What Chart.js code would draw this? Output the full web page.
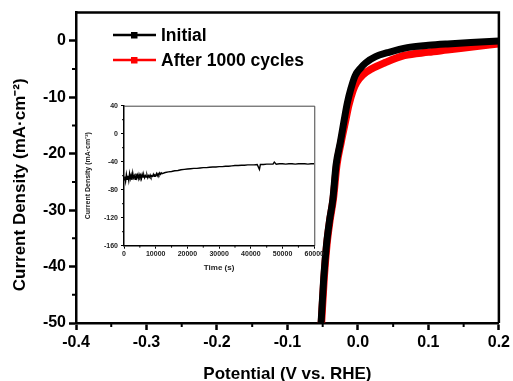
<!DOCTYPE html>
<html><head><meta charset="utf-8">
<script src="https://cdn.jsdelivr.net/npm/chart.js@4.4.0/dist/chart.umd.min.js"></script>
<style>
html,body{margin:0;padding:0;background:#fff;overflow:hidden;width:513px;height:381px;}
#wrap{position:relative;width:513px;height:381px;overflow:hidden;}
#main{position:absolute;left:0;top:0;}
#inset{position:absolute;left:80px;top:92px;}
</style></head><body>
<div id="wrap">
<canvas id="main" width="513" height="388"></canvas>
<canvas id="inset" width="245" height="185"></canvas>
</div>
<script>
// ---- main LSV data ----
const seriesNames = ['Initial', 'After 1000 cycles'];
const potentialInitial = [-0.0525,-0.0485,-0.0445,-0.0405,-0.0355,-0.031,-0.025,-0.020,-0.015,-0.010,-0.004,0.004,0.011,0.025,0.042,0.070,0.100,0.127,0.160,0.200];
const currentInitial   = [-50.5,-42,-36,-32,-28,-22,-18,-14.4,-11,-8.5,-6.2,-4.8,-3.9,-2.8,-2.1,-1.2,-0.8,-0.55,-0.3,-0.05];
const potentialCycled  = [-0.052,-0.048,-0.044,-0.040,-0.035,-0.030,-0.024,-0.018,-0.013,-0.007,-0.002,0.007,0.019,0.038,0.066,0.100,0.127,0.160,0.200];
const currentCycled    = [-50.5,-42,-36,-32,-28,-22,-18,-14.4,-11.4,-8.8,-7.4,-6.0,-5.0,-3.9,-2.6,-2.0,-1.6,-1.1,-0.5];
const xTickValues = [-0.4,-0.3,-0.2,-0.1,0.0,0.1,0.2];
const xMinorTicks = [-0.35,-0.25,-0.15,-0.05,0.05,0.15];
const yTickValues = [-50,-40,-30,-20,-10,0];
const yMinorTicks = [-45,-35,-25,-15,-5];

// ---- inset stability data ----
const insetTime = [0,250,500,750,1000,1250,1500,1750,2000,2250,2500,2750,3000,3250,3500,3750,4000,4250,4500,4750,5000,5250,5500,5750,6000,6250,6500,6750,7000,7250,7500,7750,8000,8250,8500,8750,9000,9250,9500,9750,10000,10250,10500,10750,11000,11250,11500,11750,12000,
 13000,14000,15000,16000,17000,18000,19000,20000,21000,22000,23000,24000,25000,26000,27000,28000,29000,30000,31000,32000,33000,34000,35000,36000,37000,38000,39000,40000,41000,42000,42700,43000,44000,45000,46000,47000,47400,48000,49000,50000,51000,52000,53000,54000,55000,56000,57000,58000,59000,60000];
const insetCurrent = [-66,-61,-68,-58,-65,-60,-67,-57,-64,-59,-66,-56,-63,-60,-65,-57,-63,-59,-64,-58,-62,-59,-64,-58,-62,-59,-63,-60,-62,-59,-63,-60,-62,-59,-62,-60,-61,-58,-61,-59,-60,-57,-60,-57,-59,-56,-58,-56,-57,
 -55.5,-54.5,-54,-53,-52.5,-51.5,-51,-50.5,-50,-49.5,-49.5,-49,-48.5,-48.5,-48,-47.5,-47.5,-47,-47,-46.5,-46.5,-46,-45.5,-45.5,-45,-45,-44.5,-44.5,-44.5,-44,-51,-44,-44,-43.5,-43.5,-43.5,-40.5,-43.5,-43,-43,-43.5,-43,-43,-43.5,-43,-43,-43,-43.5,-43,-43];
const insetXTicks = [0,10000,20000,30000,40000,50000,60000];
const insetXMinor = [5000,15000,25000,35000,45000,55000];
const insetYTicks = [-160,-120,-80,-40,0,40];
const insetYMinor = [-140,-100,-60,-20,20];

const FONT = "'Liberation Sans', Arial, sans-serif";

function pairs(xs, ys){ return xs.map((x,i)=>({x:x, y:ys[i]})); }

const mainDecor = {
  id: 'mainDecor',
  afterDraw(chart){
    const {ctx, chartArea:a, scales:{x, y}} = chart;
    ctx.save();
    ctx.strokeStyle = '#000';
    ctx.lineWidth = 2.5;
    ctx.beginPath();
    ctx.moveTo(a.left, a.top); ctx.lineTo(a.right, a.top); ctx.lineTo(a.right, a.bottom);
    ctx.stroke();
    ctx.lineWidth = 2;
    ctx.beginPath();
    xMinorTicks.forEach(v=>{ const p = x.getPixelForValue(v); ctx.moveTo(p, a.bottom); ctx.lineTo(p, a.bottom+4); });
    yMinorTicks.forEach(v=>{ const p = y.getPixelForValue(v); ctx.moveTo(a.left, p); ctx.lineTo(a.left-4, p); });
    ctx.stroke();
    // legend
    const rows = [35, 60];
    chart.data.datasets.forEach((ds, i)=>{
      const yy = rows[i];
      ctx.strokeStyle = ds.borderColor; ctx.fillStyle = ds.borderColor;
      ctx.lineWidth = 2.5;
      ctx.beginPath(); ctx.moveTo(113, yy); ctx.lineTo(156, yy); ctx.stroke();
      ctx.fillRect(131, yy-3, 6.5, 6.5);
      ctx.fillStyle = '#000';
      ctx.font = 'bold 17.5px ' + FONT;
      ctx.textBaseline = 'middle';
      ctx.fillText(ds.label, 161, yy+1);
    });
    ctx.restore();
  }
};

new Chart(document.getElementById('main'), {
  type: 'scatter',
  data: {
    datasets: [
      { label: seriesNames[0], data: pairs(potentialInitial, currentInitial), showLine: true,
        borderColor: '#000000', backgroundColor: '#000000', borderWidth: 7, pointRadius: 0,
        cubicInterpolationMode: 'monotone' },
      { label: seriesNames[1], data: pairs(potentialCycled, currentCycled), showLine: true,
        borderColor: '#ff0000', backgroundColor: '#ff0000', borderWidth: 7.5, pointRadius: 0,
        cubicInterpolationMode: 'monotone' }
    ]
  },
  options: {
    responsive: false, animation: false, devicePixelRatio: 1,
    layout: { padding: { left: 0, top: 9.5, right: 11, bottom: 0 } },
    plugins: { legend: { display: false }, tooltip: { enabled: false } },
    scales: {
      x: {
        type: 'linear', min: -0.4, max: 0.2,
        afterBuildTicks: s => { s.ticks = xTickValues.map(v=>({value:v})); },
        afterFit: s => { s.height = 65; },
        ticks: { color: '#000', padding: 3, font: { family: FONT, size: 16, weight: 'bold' },
                 callback: v => Number(v).toFixed(1), autoSkip: false, maxRotation: 0 },
        grid: { drawOnChartArea: false, drawTicks: true, tickLength: 7, tickWidth: 2.5, tickColor: '#000' },
        border: { display: true, color: '#000', width: 2.5 },
        title: { display: true, text: 'Potential (V vs. RHE)', color: '#000',
                 font: { family: FONT, size: 17, weight: 'bold' }, padding: { top: 0, bottom: 3 } }
      },
      y: {
        type: 'linear', min: -50, max: 5,
        afterBuildTicks: s => { s.ticks = yTickValues.map(v=>({value:v})); },
        afterFit: s => { s.width = 76; },
        ticks: { color: '#000', padding: 3, font: { family: FONT, size: 16, weight: 'bold' }, autoSkip: false },
        grid: { drawOnChartArea: false, drawTicks: true, tickLength: 7, tickWidth: 2.5, tickColor: '#000' },
        border: { display: true, color: '#000', width: 2.5 },
        title: { display: true, text: 'Current Density (mA\u00B7cm\u207B\u00B2)\u2003\u2003', color: '#000',
                 font: { family: FONT, size: 17, weight: 'bold' }, padding: { top: 10, bottom: 0 } }
      }
    }
  },
  plugins: [mainDecor]
});

const insetDecor = {
  id: 'insetDecor',
  afterDraw(chart){
    const {ctx, chartArea:a, scales:{x, y}} = chart;
    ctx.save();
    ctx.strokeStyle = '#444';
    ctx.lineWidth = 1;
    ctx.beginPath();
    ctx.moveTo(a.left, a.top+0.5); ctx.lineTo(a.right+0.5, a.top+0.5); ctx.lineTo(a.right+0.5, a.bottom);
    ctx.stroke();
    ctx.strokeStyle = '#000';
    ctx.beginPath();
    insetXMinor.forEach(v=>{ const p = x.getPixelForValue(v); ctx.moveTo(p, a.bottom); ctx.lineTo(p, a.bottom+2); });
    insetYMinor.forEach(v=>{ const p = y.getPixelForValue(v); ctx.moveTo(a.left, p); ctx.lineTo(a.left-2, p); });
    ctx.stroke();
    ctx.restore();
  }
};

new Chart(document.getElementById('inset'), {
  type: 'scatter',
  data: {
    datasets: [
      { label: 'stability', data: pairs(insetTime, insetCurrent), showLine: true,
        borderColor: '#000', borderWidth: 1.4, pointRadius: 0, tension: 0 }
    ]
  },
  options: {
    responsive: false, animation: false, devicePixelRatio: 1,
    layout: { padding: { left: 0, top: 13.7, right: 10, bottom: 0 } },
    plugins: { legend: { display: false }, tooltip: { enabled: false } },
    scales: {
      x: {
        type: 'linear', min: 0, max: 60000,
        afterBuildTicks: s => { s.ticks = insetXTicks.map(v=>({value:v})); },
        afterFit: s => { s.height = 31.3; },
        ticks: { color: '#222', padding: 1, font: { family: FONT, size: 7, weight: 'bold' },
                 callback: v => String(v), autoSkip: false, maxRotation: 0 },
        grid: { drawOnChartArea: false, drawTicks: true, tickLength: 3, tickWidth: 1, tickColor: '#000' },
        border: { display: true, color: '#000', width: 1.5 },
        title: { display: true, text: 'Time (s)', color: '#222',
                 font: { family: FONT, size: 8, weight: 'bold' }, padding: { top: 0, bottom: 4 } }
      },
      y: {
        type: 'linear', min: -160, max: 40,
        afterBuildTicks: s => { s.ticks = insetYTicks.map(v=>({value:v})); },
        afterFit: s => { s.width = 44; },
        ticks: { color: '#222', padding: 3, font: { family: FONT, size: 7, weight: 'bold' }, autoSkip: false },
        grid: { drawOnChartArea: false, drawTicks: true, tickLength: 3, tickWidth: 1, tickColor: '#000' },
        border: { display: true, color: '#000', width: 1.5 },
        title: { display: true, text: 'Current Density (mA\u00B7cm\u207B\u00B2)', color: '#222',
                 font: { family: FONT, size: 7, weight: 'bold' }, padding: { top: 4, bottom: 0 } }
      }
    }
  },
  plugins: [insetDecor]
});
</script>
</body></html>
